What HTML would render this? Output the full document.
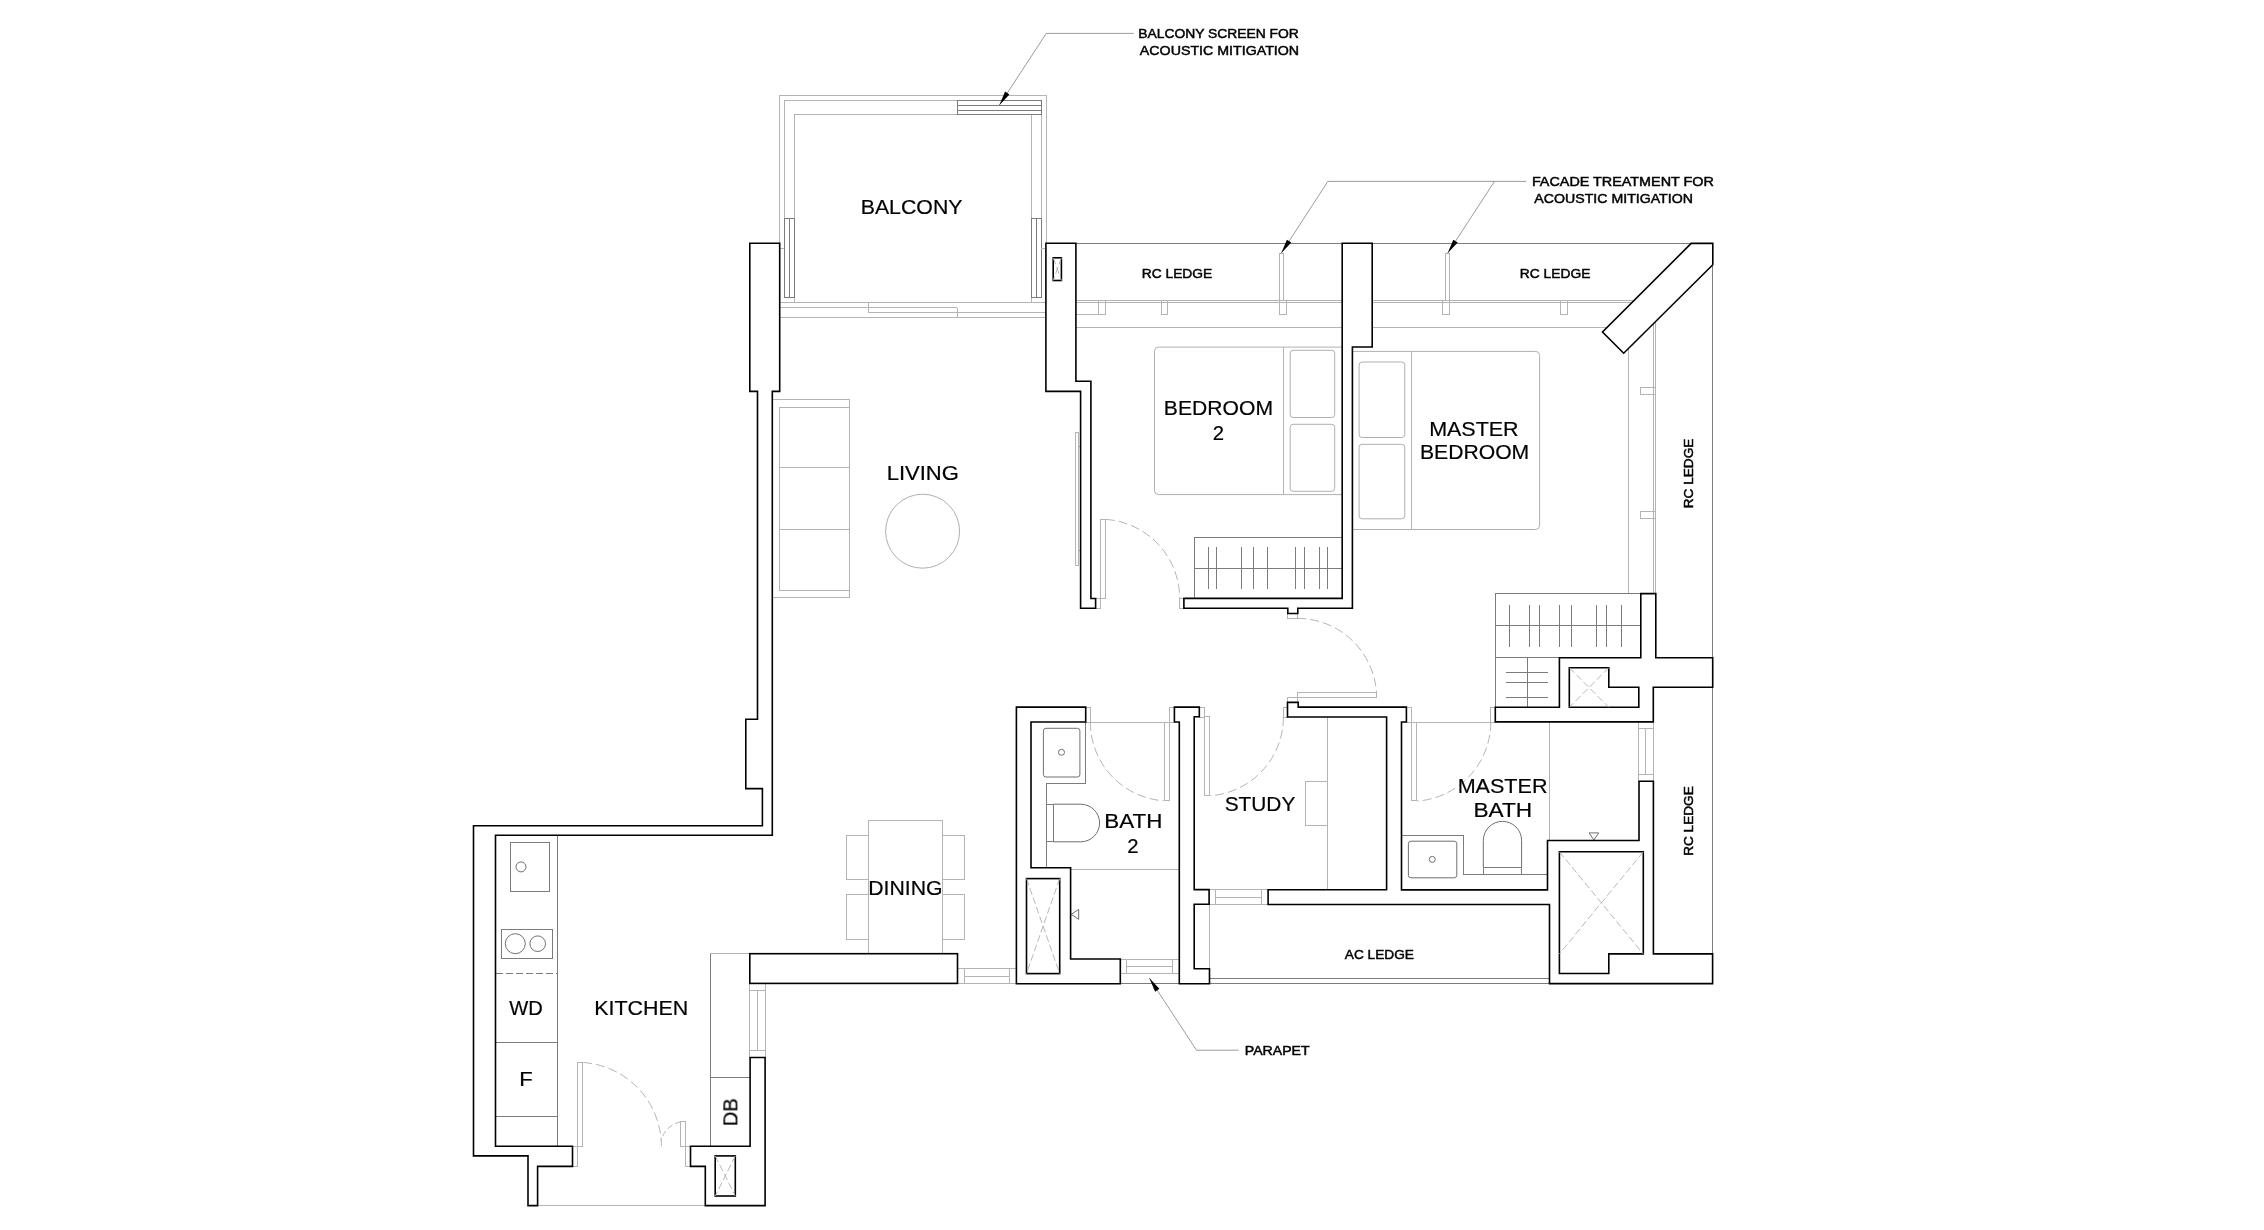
<!DOCTYPE html>
<html><head><meta charset="utf-8"><title>Floor Plan</title>
<style>
html,body{margin:0;padding:0;background:#fff;}
svg{display:block;}
.t{fill:none;stroke:#b4b4b4;stroke-width:1;shape-rendering:crispEdges;}
.d{fill:none;stroke:#7c7c7c;stroke-width:1;shape-rendering:crispEdges;}
.tc{fill:none;stroke:#b0b0b0;stroke-width:1;}
.dc{fill:none;stroke:#707070;stroke-width:1;}
.l{fill:none;stroke:#909090;stroke-width:0.9;}
.da{fill:none;stroke:#a6a6a6;stroke-width:0.85;stroke-dasharray:9 4;}
.da2{fill:none;stroke:#a6a6a6;stroke-width:0.85;stroke-dasharray:6 3;}
.dx{fill:none;stroke:#b0b0b0;stroke-width:0.9;stroke-dasharray:7 3;}
.w{fill:#fff;stroke:#000;stroke-width:1.6;stroke-linejoin:miter;}
.w2{fill:none;stroke:#000;stroke-width:1.6;stroke-linejoin:miter;}
.ah{fill:#000;stroke:none;}
#txt{opacity:0.999;}
text{font-family:"Liberation Sans",Arial,Helvetica,sans-serif;fill:#000;}
.L{font-size:20.3px;stroke:#000;stroke-width:0.2;}
.S{font-size:13.5px;stroke:#000;stroke-width:0.5;}
</style></head><body>
<svg width="2264" height="1230" viewBox="0 0 2264 1230">
<rect x="0" y="0" width="2264" height="1230" fill="#fff"/>
<g id="thin">
<path class="t" d="M779.6,243.3 L779.6,95.2 L1046.5,95.2 L1046.5,243.3"/>
<path class="t" d="M784.3,297.5 L784.3,100.3 L1041.4,100.3 L1041.4,297.5"/>
<path class="t" d="M794.5,302.5 L794.5,114.6 L1031.6,114.6 L1031.6,302.5"/>
<rect class="d" x="784.3" y="218.5" width="10.2" height="79.0"/>
<line class="d" x1="789.6" y1="218.5" x2="789.6" y2="297.5"/>
<rect class="d" x="1031.6" y="218.5" width="9.8" height="79.0"/>
<line class="d" x1="1036.5" y1="218.5" x2="1036.5" y2="297.5"/>
<line class="t" x1="779.6" y1="248.4" x2="784.3" y2="248.4"/>
<line class="t" x1="1041.4" y1="248.4" x2="1046.2" y2="248.4"/>
<line class="t" x1="779.7" y1="302.5" x2="1045.9" y2="302.5"/>
<line class="t" x1="779.7" y1="307.5" x2="957.3" y2="307.5"/>
<line class="t" x1="868.4" y1="312.5" x2="1045.9" y2="312.5"/>
<line class="t" x1="779.7" y1="317.5" x2="1045.9" y2="317.5"/>
<line class="t" x1="868.4" y1="302.5" x2="868.4" y2="312.5"/>
<line class="t" x1="957.3" y1="307.5" x2="957.3" y2="317.5"/>
<rect class="d" x="957.4" y="100.3" width="84.0" height="14.3"/>
<line class="d" x1="957.4" y1="105.4" x2="1041.4" y2="105.4"/>
<line class="d" x1="957.4" y1="110.3" x2="1041.4" y2="110.3"/>
<line class="d" x1="1075.9" y1="243.4" x2="1342.1" y2="243.4"/>
<line class="d" x1="1372.2" y1="243.4" x2="1691.2" y2="243.4"/>
<line class="t" x1="1075.9" y1="300.3" x2="1342.1" y2="300.3"/>
<line class="t" x1="1372.2" y1="300.3" x2="1634.0" y2="300.3"/>
<line class="t" x1="1075.9" y1="302.7" x2="1342.1" y2="302.7"/>
<line class="t" x1="1372.2" y1="302.7" x2="1632.0" y2="302.7"/>
<line class="t" x1="1075.9" y1="314.5" x2="1105.7" y2="314.5"/>
<line class="t" x1="1075.9" y1="327.3" x2="1342.1" y2="327.3"/>
<line class="t" x1="1372.2" y1="327.3" x2="1607.0" y2="327.3"/>
<rect class="t" x="1098.5" y="300.3" width="7.2" height="14.2"/>
<rect class="t" x="1161.5" y="300.3" width="6.0" height="14.2"/>
<rect class="t" x="1279.4" y="300.3" width="7.2" height="14.2"/>
<rect class="t" x="1442.5" y="300.3" width="7.4" height="14.2"/>
<rect class="t" x="1560.5" y="300.3" width="7.2" height="14.2"/>
<rect class="t" x="1279.4" y="253.4" width="4.0" height="46.9"/>
<rect class="t" x="1445.5" y="253.4" width="4.0" height="46.9"/>
<line class="d" x1="1712.7" y1="264.7" x2="1712.7" y2="657.7"/>
<line class="d" x1="1712.7" y1="687.2" x2="1712.7" y2="953.9"/>
<line class="t" x1="1628.6" y1="349.0" x2="1628.6" y2="593.6"/>
<line class="t" x1="1653.4" y1="323.0" x2="1653.4" y2="593.6"/>
<line class="t" x1="1655.5" y1="321.0" x2="1655.5" y2="593.6"/>
<rect class="t" x="1640.3" y="387.5" width="15.2" height="7.0"/>
<rect class="t" x="1640.3" y="511.8" width="15.2" height="6.8"/>
<path class="tc" d="M1342.2,347.1 H1158.5 A4,4 0 0 0 1154.5,351.1 V490.6 A4,4 0 0 0 1158.5,494.6 H1342.2"/>
<line class="t" x1="1283.6" y1="347.1" x2="1283.6" y2="494.6"/>
<rect class="tc" x="1290.2" y="350.3" width="44.5" height="67.2" rx="3"/>
<rect class="tc" x="1290.2" y="424.3" width="44.5" height="67.0" rx="3"/>
<rect class="d" x="1194.4" y="537.3" width="147.8" height="61.1"/>
<line class="d" x1="1194.4" y1="568.1" x2="1342.2" y2="568.1"/>
<line class="d" x1="1208.8" y1="547.0" x2="1208.8" y2="588.7"/>
<line class="d" x1="1216.5" y1="547.0" x2="1216.5" y2="588.7"/>
<line class="d" x1="1241.3" y1="547.0" x2="1241.3" y2="588.7"/>
<line class="d" x1="1253.5" y1="547.0" x2="1253.5" y2="588.7"/>
<line class="d" x1="1267.1" y1="547.0" x2="1267.1" y2="588.7"/>
<line class="d" x1="1295.4" y1="547.0" x2="1295.4" y2="588.7"/>
<line class="d" x1="1304.4" y1="547.0" x2="1304.4" y2="588.7"/>
<line class="d" x1="1319.4" y1="547.0" x2="1319.4" y2="588.7"/>
<line class="d" x1="1327.7" y1="547.0" x2="1327.7" y2="588.7"/>
<rect class="t" x="1100.4" y="519.4" width="5.1" height="79.1"/>
<rect class="t" x="1095.6" y="598.5" width="4.8" height="9.8"/>
<rect class="t" x="1179.5" y="598.4" width="4.4" height="9.9"/>
<path class="da" d="M1105.9,519.4 A79.3,79.3 0 0 1 1179.7,598.5"/>
<rect class="t" x="1075.5" y="432.2" width="3.0" height="133.0"/>
<line class="t" x1="1078.5" y1="446.3" x2="1080.6" y2="446.3"/>
<line class="t" x1="1078.5" y1="550.6" x2="1080.6" y2="550.6"/>
<path class="tc" d="M1352.4,351.4 H1535.6 A4,4 0 0 1 1539.6,355.4 V525.5 A4,4 0 0 1 1535.6,529.5 H1352.4"/>
<line class="t" x1="1411.5" y1="351.4" x2="1411.5" y2="529.5"/>
<rect class="tc" x="1359.1" y="362.0" width="45.7" height="75.5" rx="3"/>
<rect class="tc" x="1359.1" y="444.3" width="45.7" height="74.5" rx="3"/>
<rect class="d" x="1495.3" y="593.6" width="145.5" height="64.1"/>
<line class="d" x1="1495.3" y1="625.5" x2="1640.8" y2="625.5"/>
<line class="d" x1="1509.8" y1="604.8" x2="1509.8" y2="646.5"/>
<line class="d" x1="1529.6" y1="604.8" x2="1529.6" y2="646.5"/>
<line class="d" x1="1539.5" y1="604.8" x2="1539.5" y2="646.5"/>
<line class="d" x1="1559.4" y1="604.8" x2="1559.4" y2="646.5"/>
<line class="d" x1="1571.6" y1="604.8" x2="1571.6" y2="646.5"/>
<line class="d" x1="1596.5" y1="604.8" x2="1596.5" y2="646.5"/>
<line class="d" x1="1606.5" y1="604.8" x2="1606.5" y2="646.5"/>
<line class="d" x1="1621.5" y1="604.8" x2="1621.5" y2="646.5"/>
<rect class="d" x="1495.3" y="657.7" width="64.1" height="49.6"/>
<line class="d" x1="1527.6" y1="657.7" x2="1527.6" y2="707.3"/>
<line class="d" x1="1506.4" y1="672.3" x2="1548.1" y2="672.3"/>
<line class="d" x1="1506.4" y1="682.4" x2="1548.1" y2="682.4"/>
<line class="d" x1="1506.4" y1="697.5" x2="1548.1" y2="697.5"/>
<rect class="t" x="1287.8" y="613.5" width="9.6" height="4.9"/>
<rect class="t" x="1297.4" y="692.5" width="79.0" height="5.1"/>
<rect class="t" x="1287.5" y="697.6" width="9.9" height="4.8"/>
<path class="da" d="M1297.4,618.4 A79.2,79.2 0 0 1 1376.5,693.5"/>
<rect class="t" x="1406.4" y="707.1" width="5.1" height="14.9"/>
<rect class="t" x="1411.5" y="722.0" width="5.0" height="78.9"/>
<line class="t" x1="1411.5" y1="722.0" x2="1490.8" y2="722.0"/>
<rect class="t" x="1490.5" y="707.3" width="4.8" height="14.7"/>
<path class="da" d="M1490.8,722.0 A79.3,79.3 0 0 1 1417.0,801.1"/>
<line class="t" x1="1549.5" y1="722.0" x2="1549.5" y2="840.5"/>
<line class="t" x1="1638.6" y1="722.0" x2="1638.6" y2="781.2"/>
<line class="t" x1="1653.3" y1="722.0" x2="1653.3" y2="781.2"/>
<line class="t" x1="1645.7" y1="728.3" x2="1645.7" y2="774.4"/>
<line class="t" x1="1638.6" y1="728.3" x2="1653.3" y2="728.3"/>
<line class="t" x1="1638.6" y1="774.4" x2="1653.3" y2="774.4"/>
<path class="dc" d="M1589.1,832.9 L1598.7,832.9 L1593.9,840.0 Z"/>
<path class="d" d="M1401.5,835.4 L1463.6,835.4 L1463.6,874.7 L1547.5,874.7"/>
<rect class="dc" x="1408.4" y="841.2" width="48.4" height="36.6" rx="2.5"/>
<circle class="dc"cx="1432.3" cy="859.4" r="3"/>
<rect class="d" x="1483.3" y="867.2" width="38.3" height="7.5"/>
<path class="dc" d="M1483.3,867.2 V840.5 A19.15,19.15 0 0 1 1521.6,840.5 V867.2"/>
<line class="t" x1="1327.3" y1="717.0" x2="1327.3" y2="889.8"/>
<rect class="t" x="1305.4" y="781.5" width="21.9" height="43.8"/>
<rect class="t" x="1199.3" y="707.1" width="5.3" height="9.9"/>
<rect class="t" x="1204.2" y="716.7" width="5.5" height="78.4"/>
<rect class="t" x="1283.2" y="707.1" width="4.3" height="10.2"/>
<path class="da" d="M1283.4,717.0 A79.0,79.0 0 0 1 1209.9,795.8"/>
<line class="t" x1="1209.1" y1="889.6" x2="1268.1" y2="889.6"/>
<line class="t" x1="1209.1" y1="904.4" x2="1268.1" y2="904.4"/>
<line class="t" x1="1215.5" y1="897.5" x2="1261.4" y2="897.5"/>
<line class="t" x1="1215.5" y1="889.6" x2="1215.5" y2="904.4"/>
<line class="t" x1="1261.4" y1="889.6" x2="1261.4" y2="904.4"/>
<rect class="t" x="1085.7" y="707.1" width="4.6" height="14.9"/>
<line class="t" x1="1085.7" y1="722.0" x2="1164.6" y2="722.0"/>
<rect class="t" x="1164.6" y="722.0" width="4.7" height="78.9"/>
<rect class="t" x="1169.2" y="707.1" width="5.2" height="15.1"/>
<path class="da" d="M1090.3,722.0 A79.0,79.0 0 0 0 1163.8,800.8"/>
<path class="d" d="M1085.7,722.0 L1085.7,783.3 L1046.1,783.3 L1046.1,867.7"/>
<rect class="dc" x="1043.4" y="728.3" width="36.5" height="48.7" rx="2.5"/>
<circle class="dc"cx="1061.5" cy="752.3" r="3"/>
<rect class="d" x="1046.1" y="804.2" width="7.3" height="37.6"/>
<path class="dc" d="M1053.4,804.2 H1080.8 A18.8,18.8 0 0 1 1080.8,841.8 H1053.4"/>
<line class="t" x1="1070.6" y1="869.5" x2="1179.3" y2="869.5"/>
<path class="dc" d="M1078.7,909.3 L1078.7,919.4 L1071.3,914.4 Z"/>
<line class="t" x1="1120.3" y1="959.0" x2="1179.3" y2="959.0"/>
<line class="t" x1="1120.3" y1="973.4" x2="1179.3" y2="973.4"/>
<line class="t" x1="1126.3" y1="966.2" x2="1172.7" y2="966.2"/>
<line class="t" x1="1126.3" y1="959.0" x2="1126.3" y2="973.4"/>
<line class="t" x1="1172.7" y1="959.0" x2="1172.7" y2="973.4"/>
<line class="d" x1="1120.3" y1="983.7" x2="1179.3" y2="983.7"/>
<line class="t" x1="1209.7" y1="904.3" x2="1209.7" y2="968.7"/>
<line class="d" x1="1209.7" y1="978.2" x2="1549.5" y2="978.2"/>
<line class="d" x1="1209.5" y1="983.7" x2="1549.5" y2="983.7"/>
<rect class="t" x="868.4" y="820.5" width="74.1" height="133.2"/>
<rect class="t" x="846.4" y="835.1" width="22.0" height="44.4"/>
<rect class="t" x="942.5" y="835.1" width="22.3" height="44.4"/>
<rect class="t" x="846.4" y="894.3" width="22.0" height="45.2"/>
<rect class="t" x="942.5" y="894.3" width="22.3" height="45.2"/>
<line class="t" x1="957.5" y1="968.6" x2="1016.4" y2="968.6"/>
<line class="t" x1="957.5" y1="983.4" x2="1016.4" y2="983.4"/>
<line class="t" x1="964.5" y1="976.4" x2="1009.5" y2="976.4"/>
<line class="t" x1="964.5" y1="968.6" x2="964.5" y2="983.4"/>
<line class="t" x1="1009.5" y1="968.6" x2="1009.5" y2="983.4"/>
<path class="t" d="M772.8,399.2 L849.4,399.2 L849.4,597.3 L772.8,597.3"/>
<rect class="t" x="779.2" y="407.2" width="70.2" height="182.9"/>
<line class="t" x1="779.2" y1="467.4" x2="849.4" y2="467.4"/>
<line class="t" x1="779.2" y1="529.3" x2="849.4" y2="529.3"/>
<circle class="tc"cx="922.6" cy="531.2" r="37"/>
<line class="d" x1="557.5" y1="835.2" x2="557.5" y2="1146.3"/>
<rect class="d" x="510.2" y="842.3" width="39.3" height="49.0"/>
<circle class="dc"cx="521" cy="866.9" r="5"/>
<rect class="d" x="501.3" y="929.0" width="51.0" height="29.7"/>
<circle class="dc"cx="515.3" cy="943.7" r="10"/>
<circle class="dc"cx="537.7" cy="943.7" r="7.8"/>
<line class="d" x1="495.5" y1="973.3" x2="557.5" y2="973.3" stroke-dasharray="7 3"/>
<line class="d" x1="495.5" y1="1042.3" x2="557.5" y2="1042.3"/>
<line class="d" x1="495.5" y1="1116.2" x2="557.5" y2="1116.2"/>
<rect class="t" x="572.5" y="1146.3" width="4.9" height="20.1"/>
<rect class="t" x="577.4" y="1062.4" width="5.3" height="83.9"/>
<path class="da" d="M583.3,1062.5 A84.0,84.0 0 0 1 661.4,1146.3"/>
<rect class="t" x="680.5" y="1121.4" width="5.1" height="24.9"/>
<rect class="t" x="685.6" y="1146.3" width="4.9" height="20.1"/>
<path class="da2" d="M680.8,1121.8 A25.0,25.0 0 0 0 661.3,1140.3"/>
<line class="t" x1="537.6" y1="1205.6" x2="705.3" y2="1205.6"/>
<line class="d" x1="710.6" y1="953.7" x2="710.6" y2="1146.3"/>
<line class="t" x1="710.3" y1="953.7" x2="749.8" y2="953.7"/>
<line class="d" x1="710.6" y1="1077.4" x2="750.1" y2="1077.4"/>
<line class="t" x1="749.8" y1="983.4" x2="749.8" y2="1057.5"/>
<line class="t" x1="765.0" y1="983.4" x2="765.0" y2="1057.5"/>
<line class="t" x1="757.3" y1="990.0" x2="757.3" y2="1050.7"/>
<line class="t" x1="749.8" y1="990.0" x2="765.0" y2="990.0"/>
<line class="t" x1="749.8" y1="1050.7" x2="765.0" y2="1050.7"/>
<path class="l" d="M1133.6,33.4 L1046.3,33.4 L999.3,105.2"/>
<path class="l" d="M1526.3,181.4 L1327.9,181.4 L1281.2,253.3"/>
<line class="l" x1="1494.5" y1="181.4" x2="1447.6" y2="253.3"/>
<path class="l" d="M1238.7,1050.2 L1196.5,1050.2 L1149.3,978.1"/>
<path class="ah" d="M999.3,105.2 L1005.1,91.6 L1009.4,94.5 Z"/>
<path class="ah" d="M1281.2,253.3 L1286.9,239.7 L1291.3,242.6 Z"/>
<path class="ah" d="M1447.6,253.3 L1453.3,239.7 L1457.7,242.6 Z"/>
<path class="ah" d="M1149.3,978.1 L1159.4,988.8 L1155.1,991.7 Z"/>
</g>
<g id="walls">
<path class="w" d="M749.8,243.3 L779.7,243.3 L779.7,391.4 L772.3,391.4 L772.3,835.2 L495.5,835.2 L495.5,1146.3 L572.5,1146.3 L572.5,1166.4 L537.6,1166.4 L537.6,1205.6 L528.0,1205.6 L528.0,1155.9 L473.5,1155.9 L473.5,825.8 L762.4,825.8 L762.4,788.6 L745.8,788.6 L745.8,719.3 L757.5,719.3 L757.5,391.4 L749.8,391.4 Z"/>
<path class="w" d="M1045.9,243.3 L1075.9,243.3 L1075.9,381.3 L1090.9,381.3 L1090.9,598.5 L1095.6,598.5 L1095.6,608.3 L1080.6,608.3 L1080.6,391.4 L1045.9,391.4 Z"/>
<rect class="w2" x="1053.2" y="257.8" width="8.2" height="22.7"/>
<path class="w" d="M1342.2,243.3 L1372.2,243.3 L1372.2,347.0 L1352.4,347.0 L1352.4,608.3 L1297.8,608.3 L1297.8,613.5 L1287.8,613.5 L1287.8,608.3 L1183.9,608.3 L1183.9,598.4 L1342.2,598.4 Z"/>
<path class="w" d="M1691.2,243.4 L1712.8,243.4 L1712.8,264.7 L1623.7,353.2 L1602.5,332.0 Z"/>
<path class="w" d="M1640.8,593.6 L1655.8,593.6 L1655.8,657.7 L1712.7,657.7 L1712.7,687.2 L1653.3,687.2 L1653.3,721.9 L1495.3,721.9 L1495.3,707.3 L1559.4,707.3 L1559.4,657.7 L1640.8,657.7 Z"/>
<path class="w2" d="M1569.3,667.7 L1608.8,667.7 L1608.8,687.2 L1638.8,687.2 L1638.8,707.3 L1569.3,707.3 Z"/>
<path class="w" d="M1016.4,707.1 L1085.7,707.1 L1085.7,722.0 L1031.0,722.0 L1031.0,867.7 L1070.6,867.7 L1070.6,959.0 L1120.3,959.0 L1120.3,983.7 L1016.4,983.7 Z"/>
<rect class="w2" x="1026.5" y="878.6" width="33.2" height="95.0"/>
<path class="w" d="M1174.4,707.1 L1199.3,707.1 L1199.3,716.7 L1194.2,716.7 L1194.2,889.6 L1209.1,889.6 L1209.1,904.3 L1194.2,904.3 L1194.2,968.7 L1209.5,968.7 L1209.5,983.7 L1179.3,983.7 L1179.3,722.0 L1174.4,722.0 Z"/>
<path class="w" d="M1268.1,889.8 L1386.6,889.8 L1386.6,717.0 L1287.5,717.0 L1287.5,702.4 L1298.2,702.4 L1298.2,707.1 L1406.4,707.1 L1406.4,722.0 L1401.5,722.0 L1401.5,889.9 L1547.5,889.9 L1547.5,840.5 L1639.0,840.5 L1639.0,781.2 L1653.4,781.2 L1653.4,953.9 L1712.6,953.9 L1712.6,983.6 L1549.5,983.6 L1549.5,904.5 L1268.1,904.5 Z"/>
<path class="w2" d="M1559.4,851.8 L1643.3,851.8 L1643.3,953.9 L1608.8,953.9 L1608.8,973.5 L1559.4,973.5 Z"/>
<rect class="w" x="749.8" y="953.7" width="207.7" height="29.7"/>
<path class="w" d="M690.5,1146.3 L750.1,1146.3 L750.1,1057.5 L765.1,1057.5 L765.1,1205.6 L705.3,1205.6 L705.3,1166.4 L690.5,1166.4 Z"/>
<rect class="w2" x="715.2" y="1155.9" width="20.1" height="40.1"/>
<g id="xs">
<line class="dx" x1="1569.3" y1="667.7" x2="1608.8" y2="707.3"/>
<line class="dx" x1="1608.8" y1="667.7" x2="1569.3" y2="707.3"/>
<line class="dx" x1="1559.4" y1="851.8" x2="1643.3" y2="953.9"/>
<line class="dx" x1="1643.3" y1="851.8" x2="1559.4" y2="953.9"/>
<line class="dx" x1="1026.5" y1="878.6" x2="1059.7" y2="973.6"/>
<line class="dx" x1="1059.7" y1="878.6" x2="1026.5" y2="973.6"/>
<line class="dx" x1="715.2" y1="1155.9" x2="735.3" y2="1196.0"/>
<line class="dx" x1="735.3" y1="1155.9" x2="715.2" y2="1196.0"/>
<line class="dx" x1="1053.2" y1="257.8" x2="1061.4" y2="280.5"/>
<line class="dx" x1="1061.4" y1="257.8" x2="1053.2" y2="280.5"/>
</g>
</g>
<g id="txt">
<text class="L" x="911.61" y="214.10" text-anchor="middle" transform="translate(911.61 0) scale(1.0491 1) translate(-911.61 0)">BALCONY</text>
<text class="L" x="922.76" y="480.40" text-anchor="middle" transform="translate(922.76 0) scale(1.0852 1) translate(-922.76 0)">LIVING</text>
<text class="L" x="1218.41" y="414.90" text-anchor="middle" transform="translate(1218.41 0) scale(1.0411 1) translate(-1218.41 0)">BEDROOM</text>
<text class="L" x="1218.40" y="439.90" text-anchor="middle">2</text>
<text class="L" x="1473.90" y="435.70" text-anchor="middle" transform="translate(1473.90 0) scale(1.0585 1) translate(-1473.90 0)">MASTER</text>
<text class="L" x="1474.59" y="459.50" text-anchor="middle" transform="translate(1474.59 0) scale(1.0424 1) translate(-1474.59 0)">BEDROOM</text>
<text class="L" x="1259.98" y="811.00" text-anchor="middle" transform="translate(1259.98 0) scale(1.0278 1) translate(-1259.98 0)">STUDY</text>
<text class="L" x="1133.34" y="827.90" text-anchor="middle" transform="translate(1133.34 0) scale(1.1028 1) translate(-1133.34 0)">BATH</text>
<text class="L" x="1133.00" y="852.60" text-anchor="middle">2</text>
<text class="L" x="1502.57" y="792.60" text-anchor="middle" transform="translate(1502.57 0) scale(1.0624 1) translate(-1502.57 0)">MASTER</text>
<text class="L" x="1502.76" y="817.30" text-anchor="middle" transform="translate(1502.76 0) scale(1.1167 1) translate(-1502.76 0)">BATH</text>
<text class="L" x="905.41" y="894.80" text-anchor="middle" transform="translate(905.41 0) scale(1.0469 1) translate(-905.41 0)">DINING</text>
<text class="L" x="641.28" y="1015.00" text-anchor="middle" transform="translate(641.28 0) scale(1.0564 1) translate(-641.28 0)">KITCHEN</text>
<text class="L" x="525.93" y="1015.00" text-anchor="middle" transform="translate(525.93 0) scale(0.9925 1) translate(-525.93 0)">WD</text>
<text class="L" x="525.88" y="1086.50" text-anchor="middle" transform="translate(525.88 0) scale(1.0855 1) translate(-525.88 0)">F</text>
<text class="L" x="737.60" y="1112.20" text-anchor="middle" transform="rotate(-90 737.6 1112.20) translate(737.60 0) scale(0.9961 1) translate(-737.60 0)">DB</text>
<text class="S" x="1218.54" y="38.30" text-anchor="middle" transform="translate(1218.54 0) scale(1.0273 1) translate(-1218.54 0)">BALCONY SCREEN FOR</text>
<text class="S" x="1219.51" y="55.10" text-anchor="middle" transform="translate(1219.51 0) scale(1.0538 1) translate(-1219.51 0)">ACOUSTIC MITIGATION</text>
<text class="S" x="1622.88" y="186.10" text-anchor="middle" transform="translate(1622.88 0) scale(1.0643 1) translate(-1622.88 0)">FACADE TREATMENT FOR</text>
<text class="S" x="1613.66" y="203.10" text-anchor="middle" transform="translate(1613.66 0) scale(1.0491 1) translate(-1613.66 0)">ACOUSTIC MITIGATION</text>
<text class="S" x="1177.00" y="277.90" text-anchor="middle" transform="translate(1177.00 0) scale(1.0228 1) translate(-1177.00 0)">RC LEDGE</text>
<text class="S" x="1555.11" y="278.00" text-anchor="middle" transform="translate(1555.11 0) scale(1.0222 1) translate(-1555.11 0)">RC LEDGE</text>
<text class="S" x="1693.10" y="473.46" text-anchor="middle" transform="rotate(-90 1693.1 473.46) translate(1693.10 0) scale(1.0090 1) translate(-1693.10 0)">RC LEDGE</text>
<text class="S" x="1693.20" y="821.03" text-anchor="middle" transform="rotate(-90 1693.2 821.03) translate(1693.20 0) scale(1.0097 1) translate(-1693.20 0)">RC LEDGE</text>
<text class="S" x="1379.38" y="959.20" text-anchor="middle" transform="translate(1379.38 0) scale(1.0132 1) translate(-1379.38 0)">AC LEDGE</text>
<text class="S" x="1277.18" y="1055.00" text-anchor="middle" transform="translate(1277.18 0) scale(1.0452 1) translate(-1277.18 0)">PARAPET</text>
</g>
</svg>
</body></html>
